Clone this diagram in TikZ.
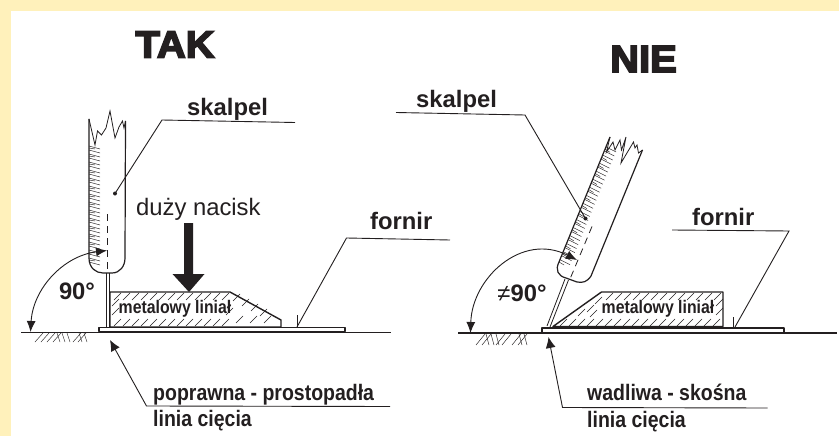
\documentclass[tikz,border=0pt]{standalone}
\usepackage{fontspec}
\usepackage{xcolor}
\setmainfont{Liberation Sans}
\newfontfamily\headfont{Liberation Sans}[BoldFeatures={FakeBold=4.5, FakeStretch=1.05}]
\newfontfamily\narrowfont{Liberation Sans}[FakeStretch=0.87]
\usetikzlibrary{arrows.meta, calc}
\definecolor{pageyellow}{RGB}{255, 241, 187}
\definecolor{inkblack}{RGB}{35, 31, 32}
\tikzset{
    outline/.style={draw=inkblack, line width=1.2pt, line join=round},
    thinline/.style={draw=inkblack, line width=0.8pt},
    hatchline/.style={draw=inkblack, line width=0.45pt},
    leader/.style={draw=inkblack, line width=0.9pt},
    angletip/.style={draw=inkblack, line width=0.9pt, {Latex[length=11pt, width=9pt]}-{Latex[length=11pt, width=9pt]}},
    pointer/.style={draw=inkblack, line width=0.9pt, {Latex[length=11pt, width=10pt]}-},
    heading/.style={inner sep=0pt, text=inkblack, font=\headfont\bfseries\fontsize{38}{38}\selectfont},
    partlabel/.style={inner sep=0pt, anchor=base west, text=inkblack, font=\bfseries\fontsize{23.8}{24}\selectfont},
    cutlabel/.style={inner sep=0pt, anchor=base west, text=inkblack, font=\narrowfont\bfseries\fontsize{22.4}{23}\selectfont},
    rulerlabel/.style={inner sep=0pt, text=inkblack, font=\narrowfont\bfseries\fontsize{18.2}{19}\selectfont}
}

\begin{document}
\begin{tikzpicture}[x=1pt, y=-1pt]
    % page
    \fill[pageyellow] (0,0) rectangle (839,436);
    \fill[white] (11,11) rectangle (839,436);

    \node[heading] (tak) at (175,44.5) {TAK};
    \node[heading] (nie) at (643.5,59) {NIE};

    % ---- left drawing ----
    \draw[outline, line width=1.7pt] (21,332.5) -- (391,332.5);
    \draw[outline, line width=1.5pt, fill=white] (99,327.5) rectangle (345,331.5);
    \foreach \x in {35,41,47,53} {
        \draw[hatchline] (\x,342) -- +(8,-9);
    }
    \foreach \x in {60,65,70,82,87} {
        \draw[hatchline] (\x,342) -- +(-3,-9);
    }
    \foreach \x in {73,78} {
        \draw[hatchline] (\x,342) -- +(8,-9);
    }

    % ruler
    \draw[outline, line width=1.4pt] (110,292) -- (230,292) -- (281,320) -- (281,327) -- (110,327) -- cycle;
    \foreach \x in {114,123,...,222} {
        \draw[hatchline] (\x,300) -- +(7,-7);
        \draw[hatchline] (\x,326) -- +(7,-7);
    }
    \foreach \x/\y in {112/306, 112/315, 233/301, 242/306, 251/311, 260/316, 226/315, 236/323, 250/323, 264/323} {
        \draw[hatchline] (\x,\y) -- +(7,-7);
    }
    \node[rulerlabel] (rulerL) at (175,309) {metalowy liniał};

    % scalpel
    \draw[outline, fill=white] (89,119) -- (89,258) .. controls (89,268) and (96,273) .. (103,273)
        -- (112,273) .. controls (120,273) and (125,266) .. (125,258) -- (125.5,121);
    \draw[thinline] (89,119) -- (95,145) -- (97.5,131) -- (101.5,135) -- (106,128) -- (110,111)
        -- (115,138) -- (119,127) -- (122.5,121) -- (124,128) -- (125.5,121);
    \foreach \y in {146,150,...,262} {
        \draw[hatchline] (89,\y) -- +(11,3);
    }
    \foreach \y in {148,156,...,260} {
        \draw[hatchline] (89,\y) -- +(6,1);
    }
    \draw[thinline] (106,273) -- (106,327);
    \draw[thinline] (109,273) -- (109,327);
    \draw[thinline, dash pattern=on 7pt off 5pt] (107.5,214) -- (107.5,273);

    % pressure arrow
    \fill[inkblack] (184,223) -- (193,223) -- (193,274) -- (204.5,274) -- (189,292) -- (172.5,274) -- (184,274) -- cycle;

    % labels
    \coordinate (skalpelLdot) at (115,193.5);
    \coordinate (skalpelLbend) at (162,120);
    \coordinate (skalpelLend) at (295,122.5);
    \node[partlabel] (skalpelL) at (187,115) {skalpel};
    \draw[leader] (skalpelLdot) -- (skalpelLbend) -- (skalpelLend);
    \fill[inkblack] (skalpelLdot) circle (2pt);

    \node[inner sep=0pt, anchor=base west, text=inkblack, font=\fontsize{23.8}{24}\selectfont] (naciskL) at (136,215) {duży nacisk};

    \coordinate (fornirLtip) at (297,327);
    \coordinate (fornirLbend) at (346.5,238);
    \coordinate (fornirLend) at (450,240);
    \node[partlabel] (fornirL) at (370,229.5) {fornir};
    \draw[leader] (fornirLtip) -- (fornirLbend) -- (fornirLend);
    \draw[leader] (fornirLtip) -- +(0,-12);

    \coordinate (angleLa) at (30.5,332);
    \coordinate (angleLb) at (107,250.5);
    \draw[angletip] (angleLa) .. controls (33,289) and (63,256) .. (angleLb);
    \node[partlabel, anchor=center] (angleLtext) at (77,291.5) {90°};

    \coordinate (cutLtip) at (110,340);
    \coordinate (cutLbend) at (146.5,406);
    \coordinate (cutLend) at (390,406.5);
    \node[cutlabel] (cutLa) at (153,400) {poprawna - prostopadła};
    \node[cutlabel] (cutLb) at (153,426.5) {linia cięcia};
    \draw[pointer] (cutLtip) -- (cutLbend) -- (cutLend);

    % ---- right drawing ----
    \draw[outline, line width=1.7pt] (458,333) -- (837,333);
    \draw[outline, line width=1.5pt, fill=white] (542,328) rectangle (784,332.5);
    \foreach \x in {476,482,496,502,512,518} {
        \draw[hatchline] (\x,345) -- +(9,-11);
    }
    \foreach \x in {489,494,499,522,527} {
        \draw[hatchline] (\x,345) -- +(-3,-11);
    }

    % ruler
    \draw[outline, line width=1.4pt] (553,326.5) -- (601.5,292) -- (723,292) -- (723,326.5) -- cycle;
    \foreach \x in {606,615,...,714} {
        \draw[hatchline] (\x,300) -- +(7,-7);
    }
    \foreach \x in {560,569,...,714} {
        \draw[hatchline] (\x,326) -- +(7,-7);
    }
    \foreach \x/\y in {587/312, 578/316, 595/304, 590/317, 716/306, 716/315} {
        \draw[hatchline] (\x,\y) -- +(7,-7);
    }
    \node[rulerlabel] (rulerR) at (658,309) {metalowy liniał};

    % scalpel
    \coordinate (kniferA) at (606,147);
    \coordinate (kniferB) at (559,262);
    \draw[outline, fill=white] (610,137) -- (kniferB) .. controls (555,270) and (558,276) .. (566,278)
        -- (577,282) .. controls (583,283) and (587,282) .. (591,276) -- (642.5,150);
    \draw[thinline] (610,137) -- (606.5,152) -- (613,142) -- (615,150) -- (620,140) -- (621.5,150) -- (626,137)
        -- (621,163) -- (633.5,142) -- (635,148) -- (637,145) -- (638.5,153) -- (642.5,150);
    \foreach \t in {0,0.035,...,1} {
        \draw[hatchline] ($(kniferA)!\t!(kniferB)$) -- +(10,5);
    }
    \foreach \t in {0.02,0.09,...,1} {
        \draw[hatchline] ($(kniferA)!\t!(kniferB)$) -- +(5,3);
    }
    \draw[thinline] (565,279) -- (547,326);
    \draw[thinline] (568.5,280) -- (550,327);
    \draw[thinline, dash pattern=on 7pt off 5pt] (592,226.5) -- (570,279);

    % labels
    \coordinate (skalpelRdot) at (585.5,218.5);
    \coordinate (skalpelRbend) at (525,115);
    \coordinate (skalpelRend) at (396,112.5);
    \node[partlabel] (skalpelR) at (416,108) {skalpel};
    \draw[leader] (skalpelRend) -- (skalpelRbend) -- (skalpelRdot);
    \fill[inkblack] (skalpelRdot) circle (2pt);

    \coordinate (fornirRtip) at (735,327);
    \coordinate (fornirRbend) at (789,231);
    \coordinate (fornirRend) at (672,230);
    \node[partlabel] (fornirR) at (692,225) {fornir};
    \draw[leader] (fornirRtip) -- (fornirRbend) -- (fornirRend);
    \draw[leader] (733.5,327) -- (733.5,317);

    \coordinate (angleRa) at (470.5,333);
    \coordinate (angleRb) at (577,260);
    \draw[angletip] (angleRa) .. controls (472,278) and (522,232) .. (angleRb);
    \node[partlabel, anchor=center] (angleRtext) at (522,293.5) {{\mdseries ≠}90°};

    \coordinate (cutRtip) at (548.5,337);
    \coordinate (cutRbend) at (562.5,407.5);
    \coordinate (cutRend) at (767.5,408);
    \node[cutlabel] (cutRa) at (587,400) {wadliwa - skośna};
    \node[cutlabel] (cutRb) at (587,427.5) {linia cięcia};
    \draw[pointer] (cutRtip) -- (cutRbend) -- (cutRend);
\end{tikzpicture}
\end{document}
